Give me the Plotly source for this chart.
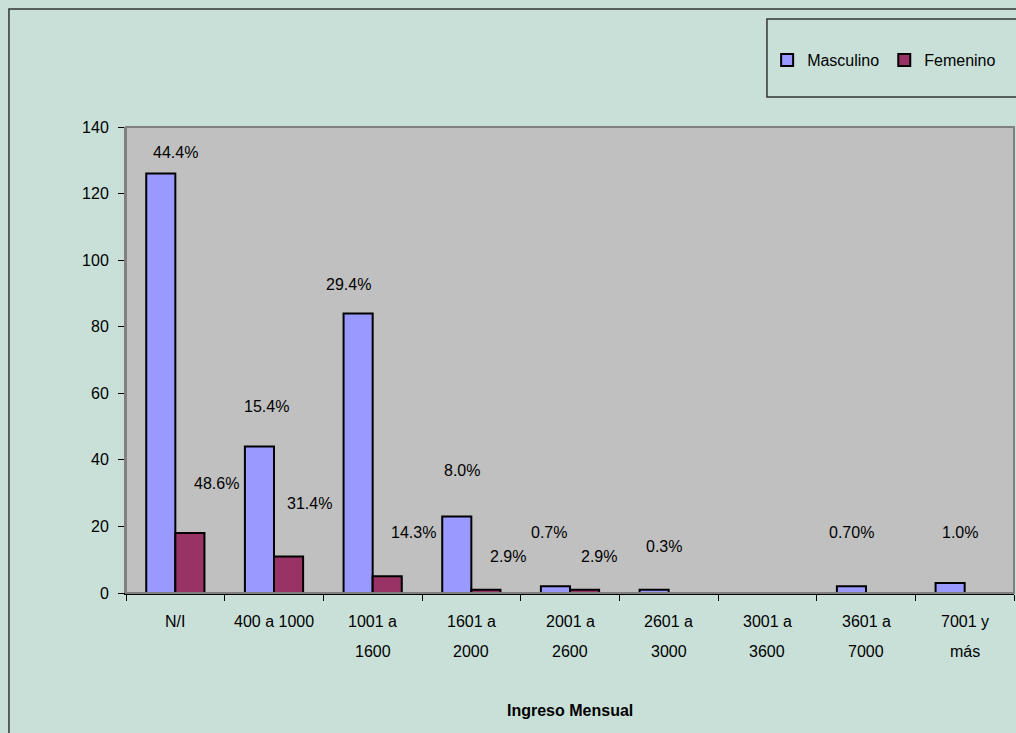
import plotly.graph_objects as go

# Monthly income brackets (two-line labels use <br>)
categorias = ["N/I", "400 a 1000", "1001 a<br>1600", "1601 a<br>2000", "2001 a<br>2600",
              "2601 a<br>3000", "3001 a<br>3600", "3601 a<br>7000", "7001 y<br>más"]
masculino = [126, 44, 84, 23, 2, 1, 0, 2, 3]
femenino = [18, 11, 5, 1, 1, 0, 0, 0, 0]
etiquetas_masc = ["44.4%", "15.4%", "29.4%", "8.0%", "0.7%", "0.3%", "", "0.70%", "1.0%"]
etiquetas_fem = ["48.6%", "31.4%", "14.3%", "2.9%", "2.9%", "", "", "", ""]

# Placement of each percentage label (category offset, y value)
pos_masc = [(0.00, 132.4), (0.92, 55.9), (1.76, 92.8), (2.91, 36.9), (3.79, 18.3),
            (4.95, 14.1), None, (6.85, 18.3), (7.95, 18.3)]
pos_fem = [(0.42, 33.0), (1.36, 27.0), (2.41, 18.3), (3.37, 11.1), (4.29, 11.1),
           None, None, None, None]

FONT = "Liberation Sans, Arial, sans-serif"
PAPER_BG = "#C8E0D8"

fig = go.Figure()
fig.add_trace(go.Bar(name="Masculino", x=categorias, y=masculino,
                     marker=dict(color="#9999FF", line=dict(color="black", width=2))))
fig.add_trace(go.Bar(name="Femenino", x=categorias, y=femenino,
                     marker=dict(color="#993366", line=dict(color="black", width=2))))

annotations = []
for txt, p in list(zip(etiquetas_masc, pos_masc)) + list(zip(etiquetas_fem, pos_fem)):
    if p is None or not txt:
        continue
    annotations.append(dict(x=p[0], y=p[1], xref="x", yref="y", text=txt, showarrow=False,
                            font=dict(size=16, color="black", family=FONT)))

# Category labels drawn line by line beneath the axis
for i, cat in enumerate(categorias):
    for j, linea in enumerate(cat.split("<br>")):
        annotations.append(dict(x=i, y=-0.062 - j * 0.064, xref="x", yref="paper", text=linea,
                                showarrow=False, yanchor="middle",
                                font=dict(size=16, color="black", family=FONT)))

annotations.append(dict(x=0.5, y=-0.253, xref="paper", yref="paper", text="<b>Ingreso Mensual</b>",
                        showarrow=False, yanchor="middle",
                        font=dict(size=16, color="black", family=FONT)))

shapes = [
    # plot-area frame
    dict(type="rect", xref="paper", yref="paper", x0=0, x1=1, y0=0, y1=1,
         line=dict(color="#808080", width=2), layer="above"),
    # outer chart frame
    dict(type="rect", xref="paper", yref="paper", x0=-0.1318, x1=1.03, y0=-0.33, y1=1.2532,
         line=dict(color="#333333", width=1.5)),
    # legend frame
    dict(type="rect", xref="paper", yref="paper", x0=0.7218, x1=1.03, y0=1.0644, y1=1.2318,
         line=dict(color="#333333", width=1.5)),
]

fig.update_layout(
    width=1016, height=733,
    margin=dict(l=126, r=2, t=127, b=140),
    paper_bgcolor=PAPER_BG,
    plot_bgcolor="#C0C0C0",
    barmode="group",
    bargap=0.41,
    bargroupgap=0,
    font=dict(family=FONT, size=16, color="black"),
    showlegend=True,
    legend=dict(orientation="h", x=0.722, y=1.1438, xanchor="left", yanchor="middle",
                bgcolor="rgba(0,0,0,0)", font=dict(size=16, family=FONT, color="black"),
                traceorder="normal"),
    annotations=annotations,
    shapes=shapes,
)
fig.update_xaxes(type="category", showticklabels=False, ticks="outside", tickson="boundaries",
                 ticklen=6, tickcolor="black", showline=True, linecolor="black", linewidth=1.5,
                 showgrid=False, range=[-0.5, 8.5])
fig.update_yaxes(range=[0, 140], dtick=20, ticks="outside", ticklen=6, tickcolor="black",
                 showline=True, linecolor="#808080", linewidth=2, showgrid=False, zeroline=False,
                 ticklabelstandoff=6,
                 tickfont=dict(size=16, family=FONT, color="black"))

fig.write_html("out.html")
